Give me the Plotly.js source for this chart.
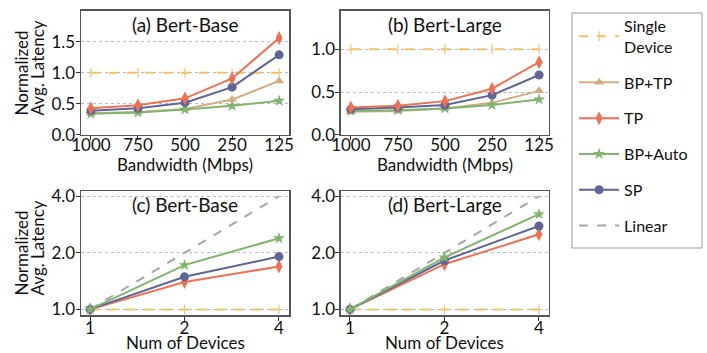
<!DOCTYPE html>
<html><head><meta charset="utf-8">
<script src="https://cdn.plot.ly/plotly-3.0.1.min.js"></script>
<style>html,body{margin:0;padding:0;background:#fff}</style>
</head><body><div id="chart" style="width:707px;height:353px"></div>
<script>
// ---- data ----
const bandwidth = ["1000", "750", "500", "250", "125"];
const devices = [1, 2, 4];

const baseSingle = [1, 1, 1, 1, 1];
const baseBPTP   = [0.35, 0.37, 0.42, 0.57, 0.87];
const baseTP     = [0.43, 0.48, 0.59, 0.91, 1.56];
const baseBPAuto = [0.34, 0.36, 0.41, 0.47, 0.55];
const baseSP     = [0.39, 0.43, 0.52, 0.77, 1.29];

const largeSingle = [1, 1, 1, 1, 1];
const largeBPTP   = [0.27, 0.28, 0.31, 0.375, 0.515];
const largeTP     = [0.32, 0.34, 0.395, 0.54, 0.85];
const largeBPAuto = [0.28, 0.29, 0.31, 0.35, 0.415];
const largeSP     = [0.30, 0.32, 0.35, 0.465, 0.70];

const devBaseSingle = [1, 1, 1];
const devBaseTP     = [1, 1.40, 1.69];
const devBaseBPAuto = [1, 1.72, 2.39];
const devBaseSP     = [1, 1.49, 1.91];
const devLinear     = [1, 2, 4];

const devLargeSingle = [1, 1, 1];
const devLargeTP     = [1, 1.74, 2.51];
const devLargeBPAuto = [1, 1.89, 3.21];
const devLargeSP     = [1, 1.82, 2.78];

const names = ["Single<br>Device", "BP+TP", "TP", "BP+Auto", "SP", "Linear"];
const panelTitles = ["(a) Bert-Base", "(b) Bert-Large", "(c) Bert-Base", "(d) Bert-Large"];
const yTitleLines = ["Normalized", "Avg. Latency"];
const xTitles = ["Bandwidth (Mbps)", "Num of Devices"];

// ---- styles ----
const styles = {
  "Single<br>Device": {color: "#f1c36a", dash: "dash", symbol: "line-ns", size: 7, lw: 2},
  "BP+TP":   {color: "#d5ad82", dash: "solid", symbol: "triangle-up", size: 9, lw: 2},
  "TP":      {color: "#ec7256", dash: "solid", symbol: "diamond-tall", size: 10, lw: 2},
  "BP+Auto": {color: "#80b46f", dash: "solid", symbol: "star", size: 9, lw: 2},
  "SP":      {color: "#5f6597", dash: "solid", symbol: "circle", size: 9, lw: 2},
  "Linear":  {color: "#a6a6a6", dash: "dash", symbol: null, size: 0, lw: 2}
};

function tr(name, x, y, xa, ya, show) {
  const s = styles[name];
  const t = {
    x: x, y: y, xaxis: xa, yaxis: ya, name: name, type: "scatter",
    mode: s.symbol ? "lines+markers" : "lines",
    line: {color: s.color, width: s.lw, dash: s.dash},
    showlegend: show, legendgroup: name,
    legendrank: names.indexOf(name) + 1
  };
  if (s.symbol) {
    t.marker = {symbol: s.symbol, size: s.size, color: s.color,
      line: {color: s.color, width: s.symbol === "line-ns" ? 1.2 : 0}};
  }
  return t;
}

const data = [
  tr("Single<br>Device", bandwidth, baseSingle, "x", "y", true),
  tr("BP+TP", bandwidth, baseBPTP, "x", "y", true),
  tr("BP+Auto", bandwidth, baseBPAuto, "x", "y", true),
  tr("SP", bandwidth, baseSP, "x", "y", true),
  tr("TP", bandwidth, baseTP, "x", "y", true),

  tr("Single<br>Device", bandwidth, largeSingle, "x2", "y2", false),
  tr("BP+TP", bandwidth, largeBPTP, "x2", "y2", false),
  tr("BP+Auto", bandwidth, largeBPAuto, "x2", "y2", false),
  tr("SP", bandwidth, largeSP, "x2", "y2", false),
  tr("TP", bandwidth, largeTP, "x2", "y2", false),

  tr("Linear", devices, devLinear, "x3", "y3", true),
  tr("Single<br>Device", devices, devBaseSingle, "x3", "y3", false),
  tr("TP", devices, devBaseTP, "x3", "y3", false),
  tr("SP", devices, devBaseSP, "x3", "y3", false),
  tr("BP+Auto", devices, devBaseBPAuto, "x3", "y3", false),

  tr("Linear", devices, devLinear, "x4", "y4", false),
  tr("Single<br>Device", devices, devLargeSingle, "x4", "y4", false),
  tr("TP", devices, devLargeTP, "x4", "y4", false),
  tr("SP", devices, devLargeSP, "x4", "y4", false),
  tr("BP+Auto", devices, devLargeBPAuto, "x4", "y4", false)
];

const FONT = "Lato, 'Open Sans', sans-serif";
const frame = {showline: true, mirror: true, linecolor: "#555", linewidth: 1.5,
  ticks: "outside", ticklen: 4, tickcolor: "#333", tickfont: {size: 17, color: "#111"},
  zeroline: false, automargin: false};
const ygrid = {showgrid: true, gridcolor: "#aaaaaa", griddash: "dot", gridwidth: 0.8,
  ticklabelstandoff: -3};

const xTop = Object.assign({}, frame, {type: "category", range: [-0.21, 4.21], showgrid: false,
  ticklabelstandoff: -10});
const xBot = Object.assign({}, frame, {type: "log", range: [-0.0287, 0.634], showgrid: false,
  ticklabelstandoff: -7, tickvals: devices, ticktext: devices.map(String)});

const annTitle = (xa, ya, txt) => ({xref: xa + " domain", yref: ya + " domain", x: 0.5, y: 1.0,
  yanchor: "top", showarrow: false, text: txt, font: {size: 19}});
const annY = (xpx, ypx, txt) => ({xref: "paper", yref: "paper", x: xpx / 707, y: 1 - ypx / 353,
  xanchor: "center", yanchor: "bottom", textangle: -90, showarrow: false,
  text: txt, font: {size: 17}});
const annX = (xa, ypx, txt) => ({xref: xa + " domain", yref: "paper", x: 0.5, y: 1 - ypx / 353,
  xanchor: "center", yanchor: "middle", showarrow: false, text: txt, font: {size: 17}});

const layout = {
  width: 707, height: 353,
  margin: {l: 0, r: 0, t: 0, b: 0, pad: 0},
  paper_bgcolor: "#fff", plot_bgcolor: "#fff",
  font: {family: FONT, color: "#111"},
  xaxis:  Object.assign({}, xTop, {domain: [0.1146, 0.4088], anchor: "y"}),
  xaxis2: Object.assign({}, xTop, {domain: [0.4823, 0.7765], anchor: "y2"}),
  xaxis3: Object.assign({}, xBot, {domain: [0.1146, 0.4088], anchor: "y3"}),
  xaxis4: Object.assign({}, xBot, {domain: [0.4823, 0.7765], anchor: "y4"}),
  yaxis:  Object.assign({}, frame, ygrid, {domain: [0.6176, 0.9697], anchor: "x", range: [0, 2.0],
    tickvals: [0, 0.5, 1.0, 1.5], ticktext: ["0.0", "0.5", "1.0", "1.5"]}),
  yaxis2: Object.assign({}, frame, ygrid, {domain: [0.6176, 0.9697], anchor: "x2", range: [0, 1.45],
    tickvals: [0, 0.5, 1.0], ticktext: ["0.0", "0.5", "1.0"]}),
  yaxis3: Object.assign({}, frame, ygrid, {domain: [0.1076, 0.4589], anchor: "x3", type: "log",
    range: [-0.030, 0.630], tickvals: [1, 2, 4], ticktext: ["1.0", "2.0", "4.0"]}),
  yaxis4: Object.assign({}, frame, ygrid, {domain: [0.1076, 0.4589], anchor: "x4", type: "log",
    range: [-0.030, 0.630], tickvals: [1, 2, 4], ticktext: ["1.0", "2.0", "4.0"]}),
  legend: {x: 0.812, y: 0.975, xanchor: "left", yanchor: "top",
    borderwidth: 0, bgcolor: "rgba(0,0,0,0)", font: {size: 16, color: "#111"},
    tracegroupgap: 12, traceorder: "grouped", itemwidth: 40},
  shapes: [
    {type: "rect", xref: "paper", yref: "paper", x0: 572 / 707, x1: 702 / 707,
     y0: 1 - 248 / 353, y1: 1 - 13 / 353, line: {color: "#999", width: 1}, fillcolor: "rgba(0,0,0,0)"}
  ],
  annotations: [
    annTitle("x", "y", panelTitles[0]),
    annTitle("x2", "y2", panelTitles[1]),
    annTitle("x3", "y3", panelTitles[2]),
    annTitle("x4", "y4", panelTitles[3]),
    annY(21, 118, yTitleLines[0]), annY(37, 118, yTitleLines[1]),
    annY(21, 298, yTitleLines[0]), annY(37, 298, yTitleLines[1]),
    annX("x", 164, xTitles[0]), annX("x2", 164, xTitles[0]),
    annX("x3", 342, xTitles[1]), annX("x4", 342, xTitles[1])
  ]
};

Plotly.newPlot("chart", data, layout, {displayModeBar: false, staticPlot: true});
</script></body></html>
